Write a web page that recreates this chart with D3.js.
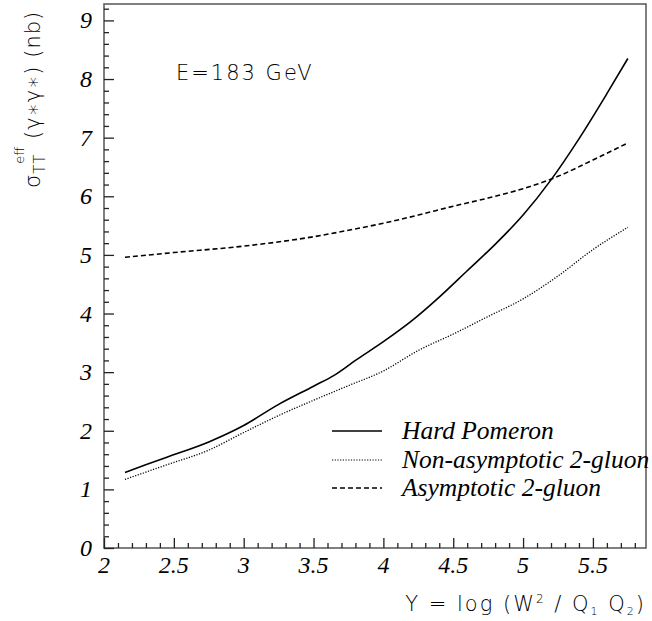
<!DOCTYPE html>
<html>
<head>
<meta charset="utf-8">
<script src="https://cdn.jsdelivr.net/npm/d3@7"></script>
<style>
  body { margin: 0; background: #fff; }
  .sans { font-family: "DejaVu Sans", sans-serif; font-weight: 200; fill: #000; }
  .leg { font-family: "Liberation Serif", serif; font-style: italic; font-size: 25.5px; fill: #000; }
  .num { font-family: "Liberation Serif", serif; font-style: italic; font-size: 24px; fill: #000; }
</style>
</head>
<body>
<div class="chart"></div>
<script>
// values
const hardX = [2.15, 2.45, 2.75, 3.0, 3.25, 3.5, 3.65, 3.8, 4.0, 4.2, 4.4, 4.6, 4.8, 5.0, 5.2, 5.4, 5.6, 5.75];
const hardY = [1.29, 1.55, 1.81, 2.09, 2.45, 2.76, 2.95, 3.20, 3.52, 3.87, 4.28, 4.73, 5.18, 5.68, 6.28, 6.98, 7.75, 8.35];
const nonAsymX = [2.15, 2.45, 2.75, 3.0, 3.25, 3.5, 3.75, 4.0, 4.25, 4.5, 4.75, 5.0, 5.25, 5.5, 5.75];
const nonAsymY = [1.17, 1.42, 1.67, 1.97, 2.26, 2.52, 2.77, 3.02, 3.37, 3.65, 3.95, 4.25, 4.64, 5.09, 5.47];
const asymX = [2.15, 2.5, 3.0, 3.5, 3.75, 4.0, 4.25, 4.5, 4.75, 5.0, 5.25, 5.5, 5.75];
const asymY = [4.96, 5.04, 5.15, 5.31, 5.42, 5.54, 5.68, 5.83, 5.97, 6.13, 6.34, 6.62, 6.91];
const xTicks = [2, 2.5, 3, 3.5, 4, 4.5, 5, 5.5];
const yTicks = [0, 1, 2, 3, 4, 5, 6, 7, 8, 9];
const legendNames = ["Hard Pomeron", "Non-asymptotic 2-gluon", "Asymptotic 2-gluon"];

const width = 652, height = 621;
const pLeft = 104, pRight = 646, pTop = 4, pBottom = 548;

const svg = d3.select(".chart").append("svg")
  .attr("width", width)
  .attr("height", height);

const x = d3.scaleLinear().domain([2, 5.88]).range([pLeft, pRight]);
const y = d3.scaleLinear().domain([0, 9.28]).range([pBottom, pTop]);

// frame
svg.append("rect")
  .attr("x", pLeft).attr("y", pTop)
  .attr("width", pRight - pLeft).attr("height", pBottom - pTop)
  .attr("fill", "none").attr("stroke", "#555").attr("stroke-width", 1.5);

// minor ticks
const xMinor = d3.range(2, 5.881, 0.1).filter(v => Math.abs(v * 2 - Math.round(v * 2)) > 0.01);
const yMinor = d3.range(0, 9.28, 0.2).filter(v => Math.abs(v - Math.round(v)) > 0.01);

function tickGroup(axis, tr) {
  const g = svg.append("g").attr("transform", tr).call(axis);
  g.select(".domain").remove();
  g.selectAll("line").attr("stroke", "#222").attr("stroke-width", 1.3);
  return g;
}
tickGroup(d3.axisTop(x).tickValues(xTicks).tickSize(10).tickFormat(""), `translate(0,${pBottom})`);
tickGroup(d3.axisTop(x).tickValues(xMinor).tickSize(5).tickFormat(""), `translate(0,${pBottom})`);
tickGroup(d3.axisRight(y).tickValues(yTicks).tickSize(10).tickFormat(""), `translate(${pLeft},0)`);
tickGroup(d3.axisRight(y).tickValues(yMinor).tickSize(5).tickFormat(""), `translate(${pLeft},0)`);

// tick labels
svg.append("g").selectAll("text")
  .data(xTicks)
  .enter()
  .append("text")
  .attr("class", "num")
  .attr("x", d => x(d))
  .attr("y", 573)
  .attr("text-anchor", "middle")
  .text(d => d);

svg.append("g").selectAll("text")
  .data(yTicks)
  .enter()
  .append("text")
  .attr("class", "num")
  .attr("x", 92)
  .attr("y", d => y(d) + 8)
  .attr("text-anchor", "end")
  .text(d => d);

// curves
const line = d3.line().x(d => x(d[0])).y(d => y(d[1])).curve(d3.curveMonotoneX);
const styles = [
  { xs: hardX, ys: hardY, dash: null, w: 1.6 },
  { xs: nonAsymX, ys: nonAsymY, dash: "1.2,1.5", w: 1.3 },
  { xs: asymX, ys: asymY, dash: "5,3", w: 1.6 }
];
styles.forEach(s => {
  svg.append("path")
    .datum(s.xs.map((v, i) => [v, s.ys[i]]))
    .attr("d", line)
    .attr("fill", "none")
    .attr("stroke", "#000")
    .attr("stroke-width", s.w)
    .attr("stroke-dasharray", s.dash);
});

// legend
const legY = [431, 460, 488];
const leg = svg.append("g");
legendNames.forEach((name, i) => {
  leg.append("line")
    .attr("x1", 332).attr("x2", 382)
    .attr("y1", legY[i]).attr("y2", legY[i])
    .attr("stroke", "#000")
    .attr("stroke-width", i === 1 ? 1.1 : 1.4)
    .attr("stroke-dasharray", styles[i].dash);
  leg.append("text")
    .attr("class", "leg")
    .attr("x", 402)
    .attr("y", legY[i] + 8)
    .text(name);
});

// annotation
svg.append("text")
  .attr("class", "sans")
  .attr("x", 176)
  .attr("y", 80)
  .style("font-size", "21px")
  .style("letter-spacing", "2px")
  .text("E=183 GeV");

// x title
const xt = svg.append("text")
  .attr("class", "sans")
  .attr("x", 646)
  .attr("y", 611)
  .attr("text-anchor", "end")
  .style("font-size", "21px")
  .style("letter-spacing", "2px");
xt.append("tspan").text("Y = log (W");
xt.append("tspan").attr("dy", -8).style("font-size", "12px").text("2");
xt.append("tspan").attr("dy", 8).text(" / Q");
xt.append("tspan").attr("dy", 4).style("font-size", "11px").text("1");
xt.append("tspan").attr("dy", -4).text(" Q");
xt.append("tspan").attr("dy", 4).style("font-size", "11px").text("2");
xt.append("tspan").attr("dy", -4).text(")");

// y title
const yt = svg.append("text")
  .attr("class", "sans")
  .attr("transform", "translate(40,188) rotate(-90)")
  .style("font-size", "21px")
  .style("letter-spacing", "1px");
yt.append("tspan").text("σ");
yt.append("tspan").attr("dy", 5).style("font-size", "15px").text("TT");
yt.append("tspan").attr("dy", -21).attr("dx", -10).style("font-size", "13px").style("letter-spacing", "0px").text("eff");
yt.append("tspan").attr("dy", 16).text(" (γ∗γ∗) (nb)");
</script>
</body>
</html>
